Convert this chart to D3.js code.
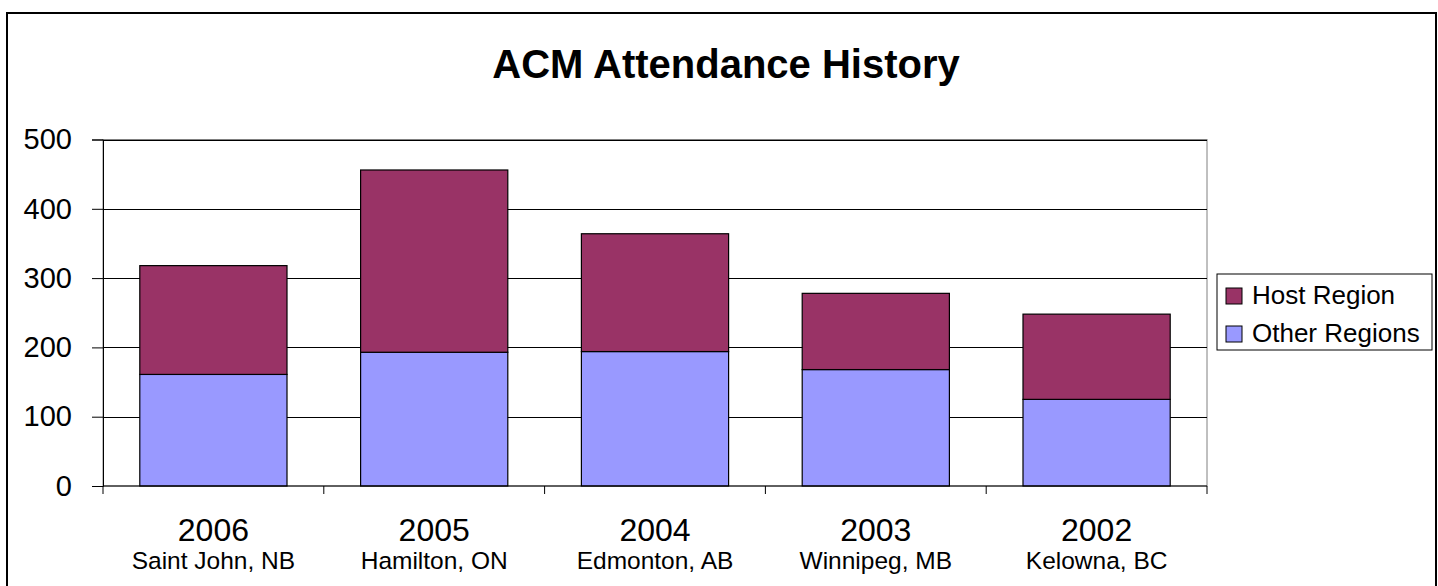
<!DOCTYPE html>
<html>
<head>
<meta charset="utf-8">
<script src="https://cdn.jsdelivr.net/npm/d3@7"></script>
<style>
  body { margin: 0; background: #fff; }
  text { font-family: "Liberation Sans", Arial, sans-serif; fill: #000; }
</style>
</head>
<body>
<div id="chart"></div>
<script>
// data
const years = ["2006", "2005", "2004", "2003", "2002"];
const cities = ["Saint John, NB", "Hamilton, ON", "Edmonton, AB", "Winnipeg, MB", "Kelowna, BC"];
const otherRegions = [161, 193, 194, 168, 125];
const hostRegion = [157, 263, 170, 110, 123];
const yTicks = [0, 100, 200, 300, 400, 500];
const seriesNames = ["Host Region", "Other Regions"];
const seriesColors = ["#993366", "#9999FF"];

const width = 1438, height = 586;

// plot area
const plot = { left: 103, right: 1207, top: 139.5, bottom: 486 };

const svg = d3.select("#chart").append("svg")
    .attr("width", width)
    .attr("height", height);

// outer chart frame
svg.append("rect")
    .attr("x", 7).attr("y", 13)
    .attr("width", 1429).attr("height", 590)
    .attr("fill", "#fff")
    .attr("stroke", "#000")
    .attr("stroke-width", 2);

// scales
const x = d3.scaleBand().domain(years).range([plot.left, plot.right]).paddingInner(1/3).paddingOuter(1/6);
const y = d3.scaleLinear().domain([0, 500]).range([plot.bottom, plot.top]);

// plot area border (grey, top and right)
svg.append("rect")
    .attr("x", plot.left).attr("y", plot.top)
    .attr("width", plot.right - plot.left).attr("height", plot.bottom - plot.top)
    .attr("fill", "none")
    .attr("stroke", "#808080");

// gridlines
svg.append("g")
  .selectAll("line")
  .data(yTicks.filter(d => d > 0))
  .join("line")
    .attr("x1", plot.left).attr("x2", plot.right)
    .attr("y1", d => Math.round(y(d)) + 0.5).attr("y2", d => Math.round(y(d)) + 0.5)
    .attr("stroke", "#000");

// stacked bars
const rows = years.map((yr, i) => ({ year: yr, "Other Regions": otherRegions[i], "Host Region": hostRegion[i] }));
const stack = d3.stack().keys(["Other Regions", "Host Region"])(rows);

svg.append("g")
  .selectAll("g")
  .data(stack)
  .join("g")
    .attr("fill", d => seriesColors[seriesNames.indexOf(d.key)])
  .selectAll("rect")
  .data(d => d)
  .join("rect")
    .attr("x", d => x(d.data.year))
    .attr("y", d => y(d[1]))
    .attr("width", x.bandwidth())
    .attr("height", d => y(d[0]) - y(d[1]))
    .attr("stroke", "#000")
    .attr("stroke-width", 1.2);

// y axis
const yAxis = svg.append("g")
    .attr("transform", `translate(${plot.left},0)`)
    .call(d3.axisLeft(y).tickValues(yTicks).tickSize(11).tickPadding(20));
yAxis.select(".domain").attr("stroke", "#000");
yAxis.selectAll("text").style("font-size", "29px");

// x axis, ticks between categories
const step = (plot.right - plot.left) / years.length;
const xAxis = svg.append("g");
xAxis.append("line")
    .attr("x1", plot.left).attr("x2", plot.right)
    .attr("y1", plot.bottom).attr("y2", plot.bottom)
    .attr("stroke", "#000");
xAxis.selectAll(".tk")
  .data(d3.range(years.length + 1))
  .join("line")
    .attr("class", "tk")
    .attr("x1", i => plot.left + i * step).attr("x2", i => plot.left + i * step)
    .attr("y1", plot.bottom).attr("y2", plot.bottom + 8)
    .attr("stroke", "#000");

const lbl = svg.append("g")
  .selectAll("g")
  .data(years)
  .join("g")
    .attr("transform", d => `translate(${x(d) + x.bandwidth() / 2},0)`);
lbl.append("text")
    .attr("y", 541)
    .attr("text-anchor", "middle")
    .style("font-size", "32px")
    .text(d => d);
lbl.append("text")
    .attr("y", 569)
    .attr("text-anchor", "middle")
    .style("font-size", "24.5px")
    .text((d, i) => cities[i]);

// title
svg.append("text")
    .attr("x", 726).attr("y", 78)
    .attr("text-anchor", "middle")
    .style("font-size", "40px")
    .style("font-weight", "bold")
    .text("ACM Attendance History");

// legend
const legend = svg.append("g").attr("transform", "translate(1217,274)");
legend.append("rect")
    .attr("width", 215).attr("height", 76)
    .attr("fill", "#fff").attr("stroke", "#000");
const li = legend.selectAll(".item")
  .data(seriesNames)
  .join("g")
    .attr("class", "item")
    .attr("transform", (d, i) => `translate(9,${14 + i * 38})`);
li.append("rect")
    .attr("width", 16).attr("height", 16)
    .attr("fill", (d, i) => seriesColors[i])
    .attr("stroke", "#000");
li.append("text")
    .attr("x", 26).attr("y", 16)
    .style("font-size", "26px")
    .text(d => d);
</script>
</body>
</html>
